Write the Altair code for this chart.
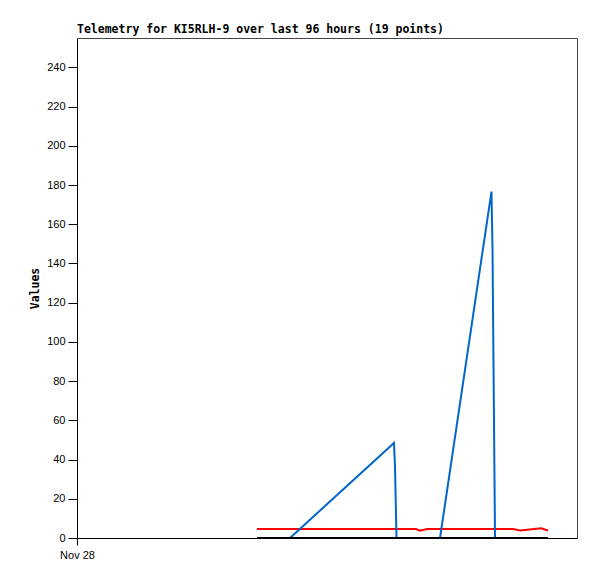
import altair as alt
import pandas as pd

hours = [34.56, 40.90, 60.86, 61.06, 61.25, 61.34, 65.09, 65.86, 67.20, 69.70,
         79.58, 79.78, 79.97, 80.16, 80.26, 83.71, 85.06, 89.09, 90.43]
red_vals = [4.6, 4.6, 4.6, 4.6, 4.6, 4.6, 4.6, 3.7, 4.6, 4.6,
            4.6, 4.6, 4.6, 4.6, 4.6, 4.6, 3.8, 5.0, 3.8]
blue_vals = [0, 0, 48.5, 36, 12, 0, 0, 0, 0, 0,
             176.7, 147, 88, 30, 0, 0, 0, 0, 0]
black_vals = [0] * 19
y_ticks = list(range(0, 241, 20))
series = ["red", "blue", "black"]
colors = ["#ff0000", "#0066cc", "#000000"]

rows = []
for i, h in enumerate(hours):
    rows.append({"h": h, "s": "red", "v": red_vals[i]})
    rows.append({"h": h, "s": "blue", "v": blue_vals[i]})
    rows.append({"h": h, "s": "black", "v": black_vals[i]})
df = pd.DataFrame(rows)

xaxis = alt.Axis(values=[0], labelExpr="'Nov 28'", title=None, grid=False,
                 tickSize=7, labelPadding=4, labelFlush=False,
                 domainColor="black", tickColor="black",
                 labelFont="Liberation Sans", labelFontSize=11, labelColor="black")
yaxis = alt.Axis(values=y_ticks, title="Values", grid=False, tickSize=9,
                 labelPadding=3, domainColor="black", tickColor="black",
                 labelFont="Liberation Sans", labelFontSize=11, labelColor="black",
                 titleFont="DejaVu Sans Mono", titleFontSize=11.5,
                 titleFontWeight="bold", titleColor="black", titlePadding=6)

# draw order: red, blue, black
layers = [alt.Chart(df).transform_filter(alt.datum.s == s).mark_line(strokeWidth=2, color=c).encode(
    x=alt.X("h:Q", scale=alt.Scale(domain=[0, 96], nice=False, zero=False), axis=xaxis),
    y=alt.Y("v:Q", scale=alt.Scale(domain=[0, 255], nice=False), axis=yaxis),
) for s, c in zip(series, colors)]

chart = alt.layer(*layers).properties(
    width=500, height=500,
    background="white",
    title=alt.TitleParams("Telemetry for KI5RLH-9 over last 96 hours (19 points)",
                          anchor="start", frame="group", font="DejaVu Sans Mono",
                          fontWeight="bold", fontSize=11.5, color="black", offset=3),
    autosize=alt.AutoSizeParams(type="none"),
    padding={"left": 69, "top": 30, "right": 12, "bottom": 33},
).configure_view(stroke="#444444", strokeWidth=1)

chart.save("out.html", embed_options={"renderer": "svg", "actions": False})
